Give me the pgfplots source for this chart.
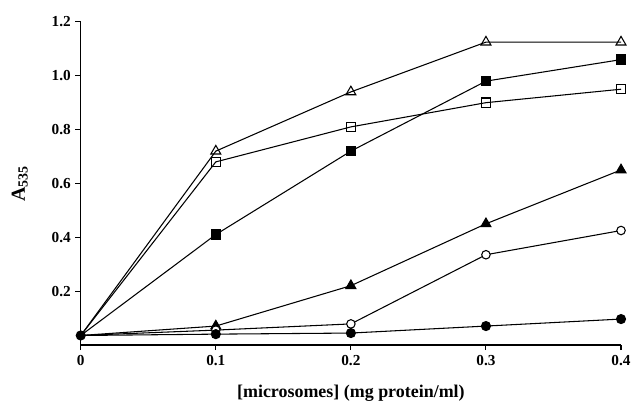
\documentclass[border=0pt]{standalone}
\usepackage{fontspec}
\setmainfont{Liberation Serif}
\usepackage{pgfplots}
\pgfplotsset{compat=1.18}
\begin{document}
\begin{tikzpicture}[x=0.75pt,y=0.75pt]
\begin{axis}[
  scale only axis, width=406.5pt, height=243pt,
  xmin=0, xmax=0.4, ymin=0, ymax=1.2,
  axis lines=left, axis line style={-, line width=0.9pt},
  tick align=outside, major tick length=4pt,
  tick style={line width=0.8pt, black},
  xtick={0,0.1,0.2,0.3,0.4}, xticklabels={0,0.1,0.2,0.3,0.4},
  ytick={0.2,0.4,0.6,0.8,1.0,1.2},
  yticklabel style={/pgf/number format/fixed, /pgf/number format/fixed zerofill, /pgf/number format/precision=1},
  /pgf/number format/assume math mode=true,
  ticklabel style={font=\fontsize{11.5}{13}\selectfont\bfseries},
  xlabel={[microsomes] (mg protein/ml)},
  ylabel={A$_{\mathbf{535}}$},
  label style={font=\fontsize{13.5}{15}\selectfont\bfseries},
  xlabel style={yshift=-8pt},
  ylabel style={yshift=11pt, font=\fontsize{15}{17}\selectfont\bfseries},
  clip=false,
  every axis plot/.append style={line width=0.8pt, black},
  mark options={solid, line width=0.8pt},
]
% open triangle
\addplot[mark=triangle, mark size=4.3pt, mark indices={2,3,4,5}] coordinates {(0,0.035) (0.1,0.72) (0.2,0.94) (0.3,1.125) (0.4,1.125)};
% filled square
\addplot[mark=square*, mark size=3.5pt, mark indices={2,3,4,5}] coordinates {(0,0.035) (0.1,0.41) (0.2,0.72) (0.3,0.98) (0.4,1.06)};
% open square
\addplot[mark=square, mark size=3.5pt, mark options={fill=white}, mark indices={2,3,4,5}] coordinates {(0,0.035) (0.1,0.68) (0.2,0.81) (0.3,0.90) (0.4,0.95)};
% filled triangle
\addplot[mark=triangle*, mark size=4.3pt, mark indices={2,3,4,5}] coordinates {(0,0.035) (0.1,0.07) (0.2,0.22) (0.3,0.45) (0.4,0.65)};
% open circle
\addplot[mark=*, mark size=3.2pt, mark options={fill=white}, mark indices={2,3,4,5}] coordinates {(0,0.035) (0.1,0.055) (0.2,0.078) (0.3,0.335) (0.4,0.425)};
% filled circle
\addplot[mark=*, mark size=3.4pt] coordinates {(0,0.035) (0.1,0.04) (0.2,0.044) (0.3,0.07) (0.4,0.096)};
\end{axis}
\useasboundingbox (-60.75pt,-38.25pt) rectangle (415.5pt,259.5pt);
\end{tikzpicture}
\end{document}
